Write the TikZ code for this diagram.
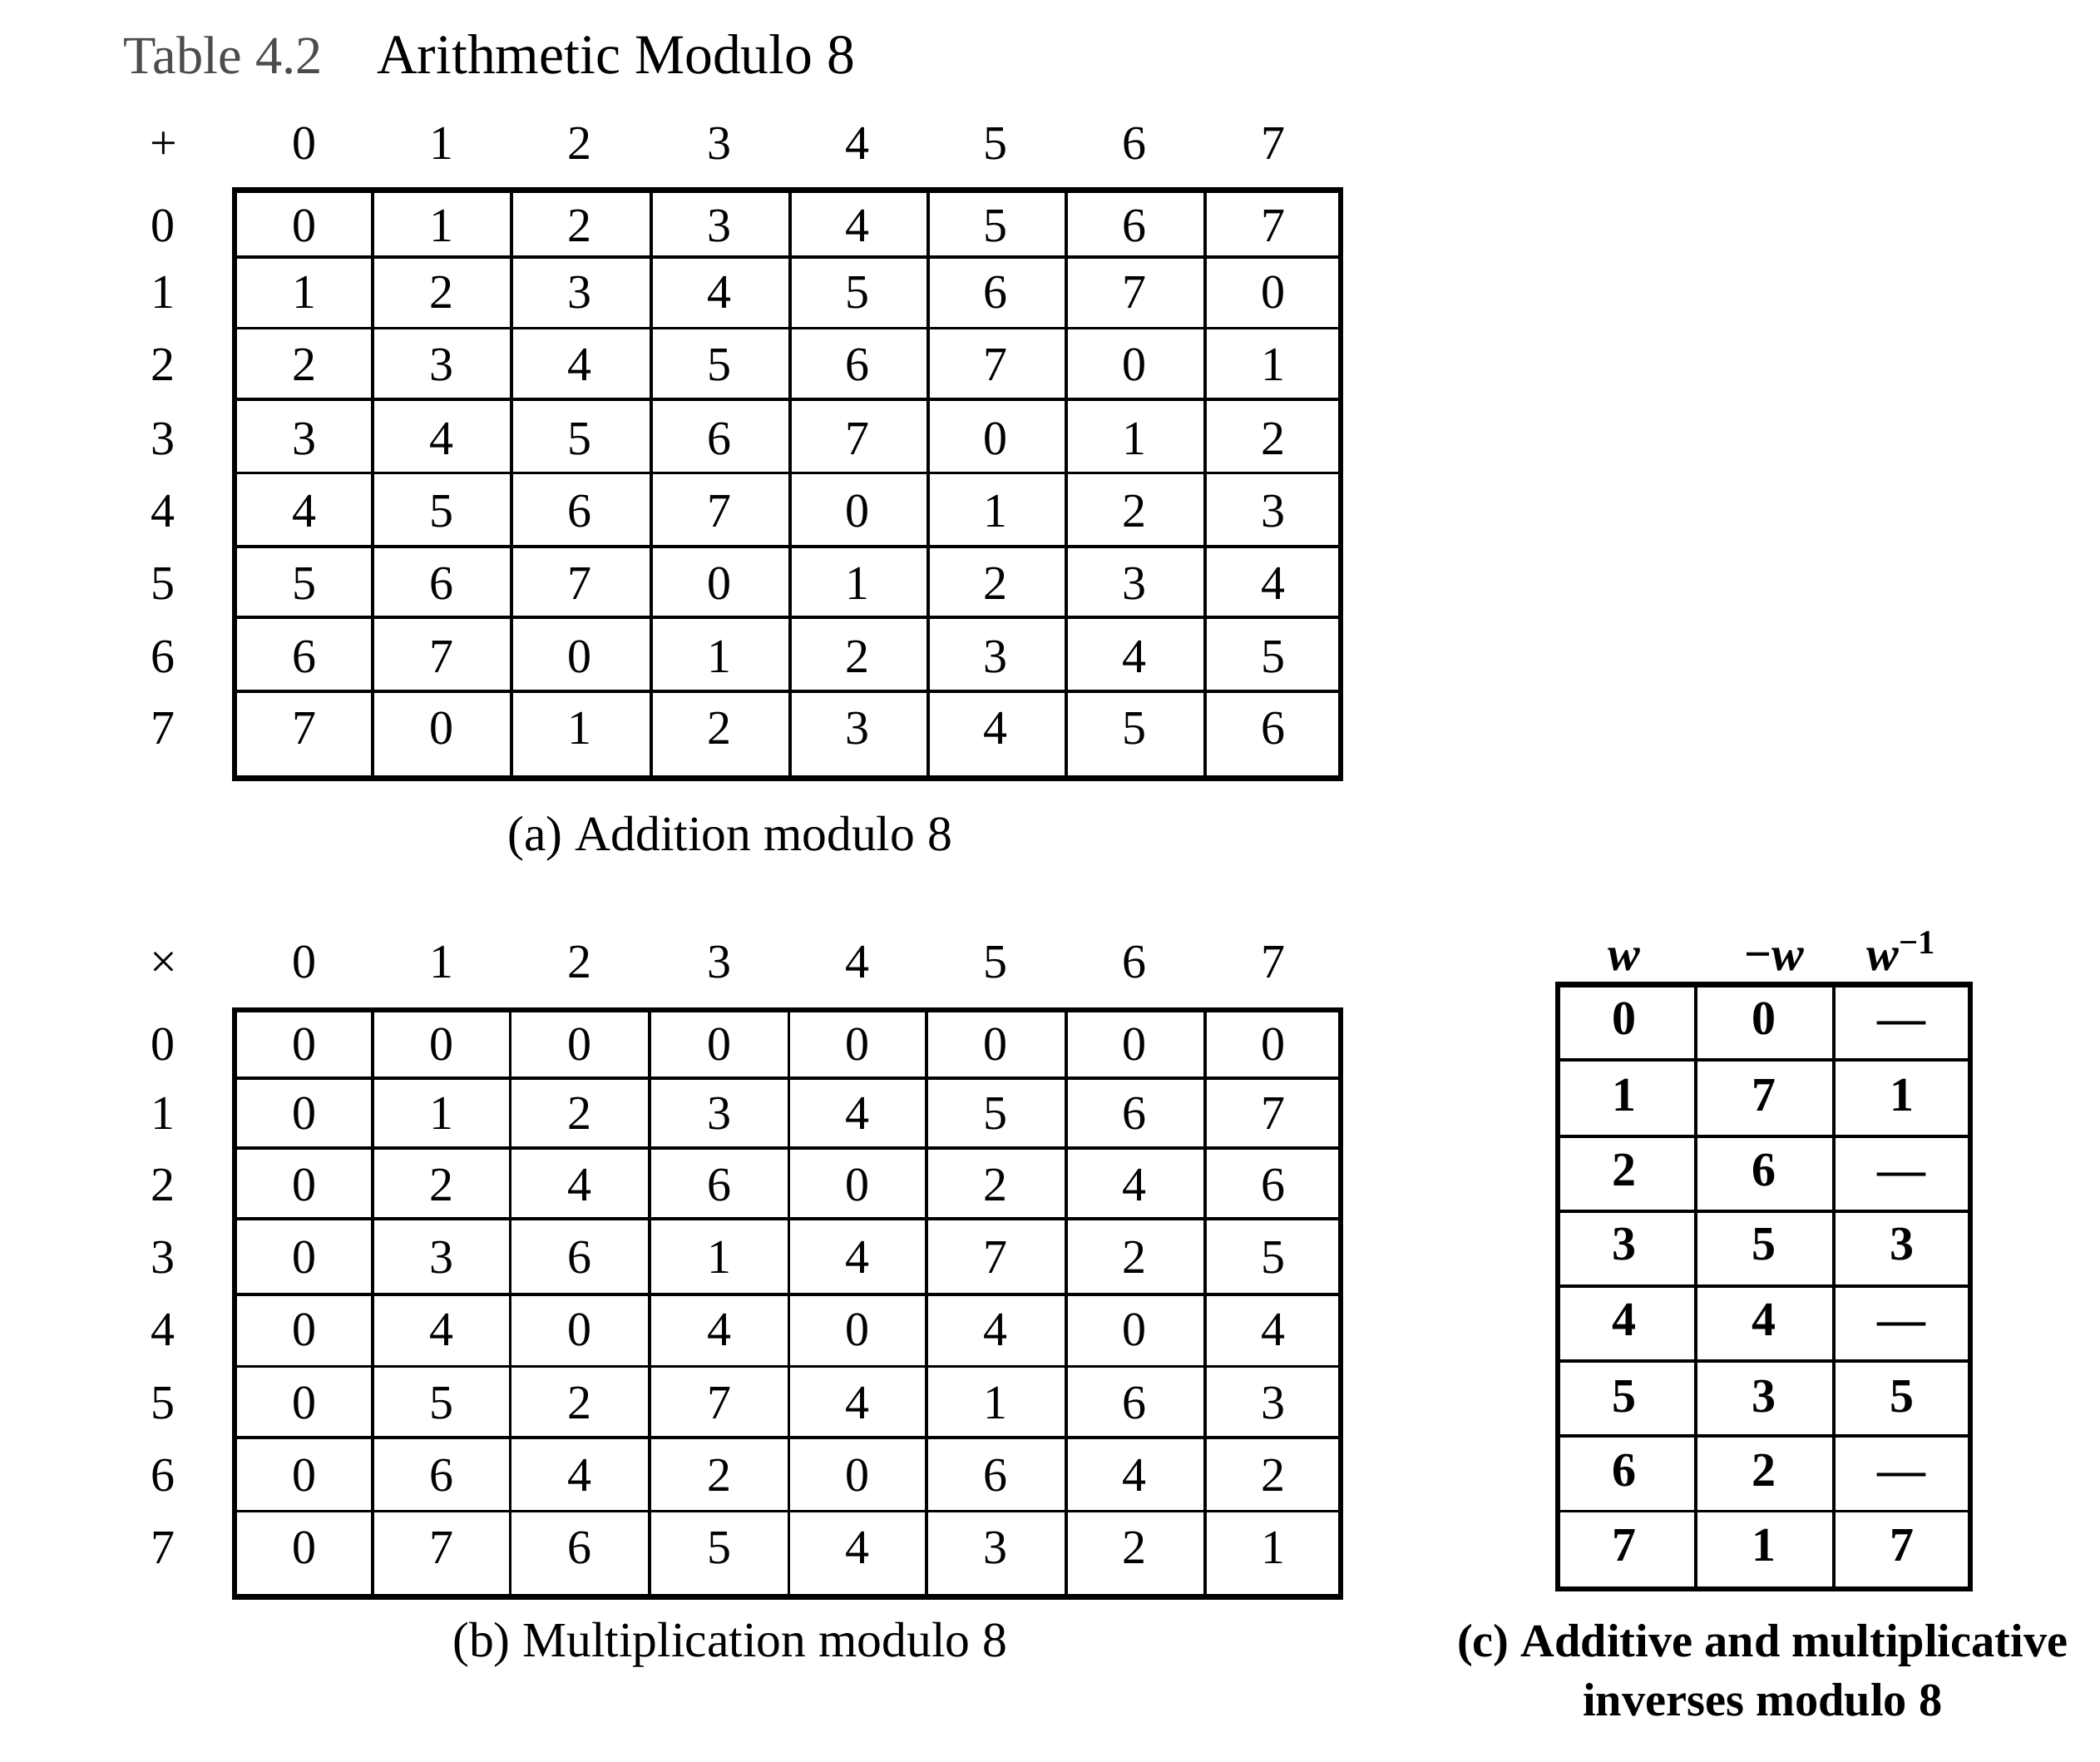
\documentclass[tikz,border=0pt]{standalone}
\usepackage{fontspec}
\setmainfont{Liberation Serif}
\begin{document}
\begin{tikzpicture}[x=0.5pt,y=-0.5pt,
  cell/.style={font=\fontsize{18}{20}\selectfont, inner sep=0pt, text height=12.2pt, text depth=0pt},
  bcell/.style={font=\fontsize{18}{20}\selectfont\bfseries, inner sep=0pt, text height=12.2pt, text depth=0pt},
  capt/.style={font=\fontsize{18.5}{22}\selectfont, inner sep=0pt, anchor=base},
  bcapt/.style={font=\fontsize{17.5}{22}\selectfont\bfseries, inner sep=0pt, anchor=base},
  ttl/.style={font=\fontsize{20}{24}\selectfont, inner sep=0pt, anchor=base west},
  outerline/.style={line width=2pt},
  innerline/.style={line width=1.2pt}]
\fill[white] (0,0) rectangle (1568,1315);
\useasboundingbox (0,0) rectangle (1568,1315);

% Title
\node[ttl, text=black!70] (tnum) at (92,55) {Table 4.2};
\node[ttl, font=\fontsize{21}{24}\selectfont] (ttext) at (281,55) {Arithmetic Modulo 8};

% ---------- Table (a) ----------
\node[cell] (aop) at (122,107) {+};
\foreach \c [count=\j from 0] in {227,330,433,537,640,743,847,951}
  \node[cell] (ah\j) at (\c,107) {\j};
\foreach \r [count=\i from 0] in {168,218,272,327,381,435,490,543} {
  \node[cell] (ar\i) at (122,\r) {\i};
  \foreach \c [count=\j from 0] in {227,330,433,537,640,743,847,951} {
    \pgfmathtruncatemacro\v{mod(\i+\j,8)}
    \node[cell] (a-\i-\j) at (\c,\r) {\v};
  }
}
\foreach \x in {278,382,486,590,693,796,900}
  \draw[innerline] (\x,142) -- (\x,581);
\foreach \y in {192,245,298,353,408,461,516}
  \draw[innerline] (175,\y) -- (1001,\y);
\draw[outerline] (175,142) rectangle (1001,581);
\node[capt] (capa) at (545,635) {(a) Addition modulo 8};

% ---------- Table (b) ----------
\node[cell] (bop) at (122,718) {×};
\foreach \c [count=\j from 0] in {227,330,433,537,640,743,847,951}
  \node[cell] (bh\j) at (\c,718) {\j};
\foreach \r [count=\i from 0] in {779,831,884,938,992,1047,1101,1155} {
  \node[cell] (br\i) at (122,\r) {\i};
  \foreach \c [count=\j from 0] in {227,330,433,537,640,743,847,951} {
    \pgfmathtruncatemacro\v{mod(\i*\j,8)}
    \node[cell] (b-\i-\j) at (\c,\r) {\v};
  }
}
\foreach \x in {278,381,485,589,692,796,900}
  \draw[innerline] (\x,754) -- (\x,1192);
\foreach \y in {805,857,910,966,1020,1073,1128}
  \draw[innerline] (175,\y) -- (1001,\y);
\draw[outerline] (175,754) rectangle (1001,1192);
\node[capt] (capb) at (545,1237) {(b) Multiplication modulo 8};

% ---------- Table (c) ----------
\node[bcell] (ch0) at (1213,712) {\textit{w}};
\node[bcell] (ch1) at (1325,712) {−\textit{w}};
\node[bcell] (ch2) at (1420,712) {\textit{w}\textsuperscript{−1}};
\foreach \r/\a/\b/\n in {760/0/—/0, 817/7/1/1, 873/6/—/2, 928/5/3/3, 985/4/—/4, 1042/3/5/5, 1097/2/—/6, 1153/1/7/7} {
  \node[bcell] (c-\n-0) at (1213,\r) {\n};
  \node[bcell] (c-\n-1) at (1317,\r) {\a};
  \node[bcell] (c-\n-2) at (1420,\r) {\b};
}
\foreach \x in {1266,1369}
  \draw[innerline] (\x,735) -- (\x,1186);
\foreach \y in {791,848,904,960,1016,1072,1128}
  \draw[innerline] (1163,\y) -- (1471,\y);
\draw[outerline] (1163,735) rectangle (1471,1186);
\node[bcapt] (capc1) at (1316,1237) {(c) Additive and multiplicative};
\node[bcapt] (capc2) at (1316,1281) {inverses modulo 8};
\end{tikzpicture}
\end{document}
